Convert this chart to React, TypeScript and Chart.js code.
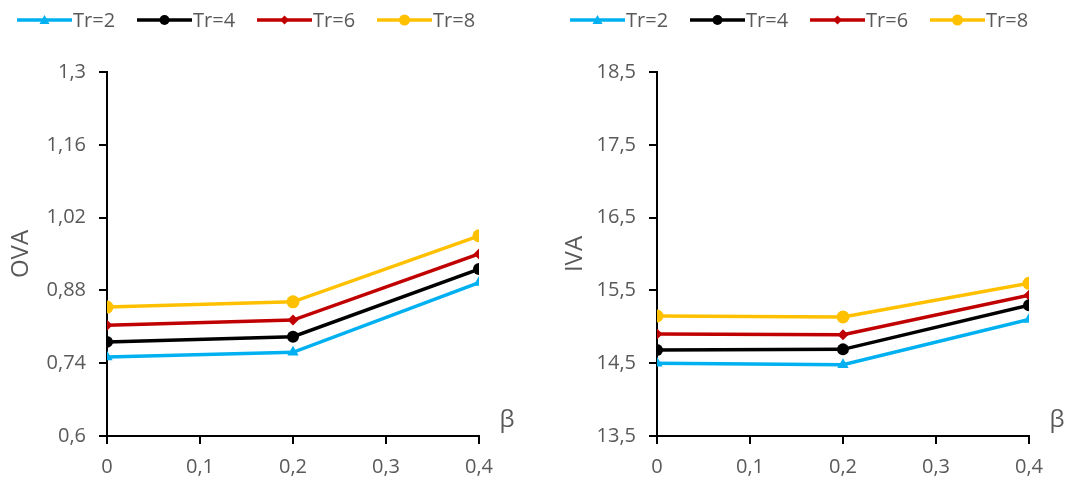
import React, { useEffect, useRef } from "react";
import { Chart, registerables } from "chart.js";

Chart.register(...registerables);

// ---- data ----
const betaValues = [0, 0.2, 0.4];
const seriesNames = ["Tr=2", "Tr=4", "Tr=6", "Tr=8"];

const ova_Tr2 = [0.752, 0.761, 0.895];
const ova_Tr4 = [0.781, 0.791, 0.921];
const ova_Tr6 = [0.813, 0.823, 0.95];
const ova_Tr8 = [0.848, 0.858, 0.985];

const iva_Tr2 = [14.5, 14.48, 15.1];
const iva_Tr4 = [14.68, 14.69, 15.295];
const iva_Tr6 = [14.9, 14.892, 15.433];
const iva_Tr8 = [15.148, 15.135, 15.597];

const xTicks = [0, 0.1, 0.2, 0.3, 0.4];
const ovaTicks = [0.6, 0.74, 0.88, 1.02, 1.16, 1.3];
const ivaTicks = [13.5, 14.5, 15.5, 16.5, 17.5, 18.5];

// ---- styles ----
const colors = ["#00B0F0", "#000000", "#C00000", "#FFC000"];
const pointStyles = ["triangle", "circle", "rectRot", "circle"];
const pointRadii = [6.5, 6, 5.5, 6.5];
const legendRadii = [5, 5, 4.5, 5.5];
const FONT = "'Open Sans', 'DejaVu Sans', sans-serif";
const TEXT = "#595959";

const fmt = (v: number) => String(Number(v.toFixed(2))).replace(".", ",");

function drawMarker(ctx: CanvasRenderingContext2D, style: string, x: number, y: number, r: number, color: string) {
  ctx.save();
  ctx.fillStyle = color;
  ctx.beginPath();
  if (style === "circle") {
    ctx.arc(x, y, r, 0, Math.PI * 2);
  } else if (style === "triangle") {
    ctx.moveTo(x, y - r);
    ctx.lineTo(x + r, y + r * 0.8);
    ctx.lineTo(x - r, y + r * 0.8);
    ctx.closePath();
  } else {
    ctx.moveTo(x, y - r);
    ctx.lineTo(x + r, y);
    ctx.lineTo(x, y + r);
    ctx.lineTo(x - r, y);
    ctx.closePath();
  }
  ctx.fill();
  ctx.restore();
}

function makeConfig(series: number[][], yTicks: number[], yTitle: string, yWidth: number, legendX: number, titleX: number): any {
  const decorPlugin = {
    id: "decor",
    afterDraw(chart: any) {
      const ctx: CanvasRenderingContext2D = chart.ctx;
      const area = chart.chartArea;
      // legend
      ctx.save();
      ctx.font = `20px ${FONT}`;
      ctx.textBaseline = "middle";
      ctx.textAlign = "left";
      seriesNames.forEach((name, i) => {
        const x0 = legendX + i * 120;
        const y = 20;
        ctx.strokeStyle = colors[i];
        ctx.lineWidth = 3.5;
        ctx.beginPath();
        ctx.moveTo(x0, y);
        ctx.lineTo(x0 + 55, y);
        ctx.stroke();
        drawMarker(ctx, pointStyles[i], x0 + 27.5, y, legendRadii[i], colors[i]);
        ctx.fillStyle = TEXT;
        ctx.fillText(name, x0 + 56, y + 1);
      });
      ctx.restore();
      // y title
      ctx.save();
      ctx.font = `24px ${FONT}`;
      ctx.fillStyle = TEXT;
      ctx.textAlign = "center";
      ctx.textBaseline = "middle";
      ctx.translate(titleX, (area.top + area.bottom) / 2);
      ctx.rotate(-Math.PI / 2);
      ctx.fillText(yTitle, 0, 0);
      ctx.restore();
      // x title
      ctx.save();
      ctx.font = `24px ${FONT}`;
      ctx.fillStyle = TEXT;
      ctx.textAlign = "center";
      ctx.textBaseline = "middle";
      ctx.fillText("β", area.right + 28, 420);
      ctx.restore();
    },
  };

  return {
    type: "line",
    data: {
      datasets: series.map((vals, i) => ({
        label: seriesNames[i],
        data: betaValues.map((b, j) => ({ x: b, y: vals[j] })),
        borderColor: colors[i],
        backgroundColor: colors[i],
        borderWidth: 3.5,
        pointStyle: pointStyles[i],
        pointRadius: pointRadii[i],
        pointBorderWidth: 0,
        pointBackgroundColor: colors[i],
        tension: 0,
        fill: false,
      })),
    },
    options: {
      responsive: false,
      animation: false,
      layout: { padding: { left: 0, top: 72, right: 536 - (yWidth + 372), bottom: 0 } },
      plugins: { legend: { display: false }, tooltip: { enabled: false } },
      scales: {
        x: {
          type: "linear",
          min: 0,
          max: 0.4,
          afterBuildTicks: (s: any) => { s.ticks = xTicks.map((v) => ({ value: v })); },
          afterFit: (s: any) => { s.height = 48; },
          grid: { drawOnChartArea: false, drawTicks: true, tickLength: 8, color: "#000", lineWidth: 2 },
          border: { display: true, color: "#000", width: 2 },
          ticks: {
            color: TEXT,
            font: { family: FONT, size: 20 },
            padding: 11,
            maxRotation: 0,
            callback: (v: number) => fmt(v),
          },
        },
        y: {
          type: "linear",
          min: yTicks[0],
          max: yTicks[yTicks.length - 1],
          afterBuildTicks: (s: any) => { s.ticks = yTicks.map((v) => ({ value: v })); },
          afterFit: (s: any) => { s.width = yWidth; },
          grid: { drawOnChartArea: false, drawTicks: true, tickLength: 8, color: "#000", lineWidth: 2 },
          border: { display: true, color: "#000", width: 2 },
          ticks: {
            color: TEXT,
            font: { family: FONT, size: 20 },
            padding: 13,
            callback: (v: number) => fmt(v),
          },
        },
      },
    },
    plugins: [decorPlugin],
  };
}

function LineChart({ series, yTicks, yTitle, yWidth, legendX, titleX }: { series: number[][]; yTicks: number[]; yTitle: string; yWidth: number; legendX: number; titleX: number }) {
  const ref = useRef<HTMLCanvasElement | null>(null);
  useEffect(() => {
    if (!ref.current) return;
    const chart = new Chart(ref.current, makeConfig(series, yTicks, yTitle, yWidth, legendX, titleX));
    return () => chart.destroy();
  }, []);
  return <canvas ref={ref} width={536} height={484} style={{ display: "block", width: 536, height: 484 }} />;
}

export default function App() {
  return (
    <div style={{ position: "absolute", left: 0, top: 0, width: 1072, height: 484, background: "#fff", display: "flex" }}>
      <LineChart series={[ova_Tr2, ova_Tr4, ova_Tr6, ova_Tr8]} yTicks={ovaTicks} yTitle="OVA" yWidth={107} legendX={17} titleX={21} />
      <LineChart series={[iva_Tr2, iva_Tr4, iva_Tr6, iva_Tr8]} yTicks={ivaTicks} yTitle="IVA" yWidth={121} legendX={34} titleX={39} />
    </div>
  );
}
